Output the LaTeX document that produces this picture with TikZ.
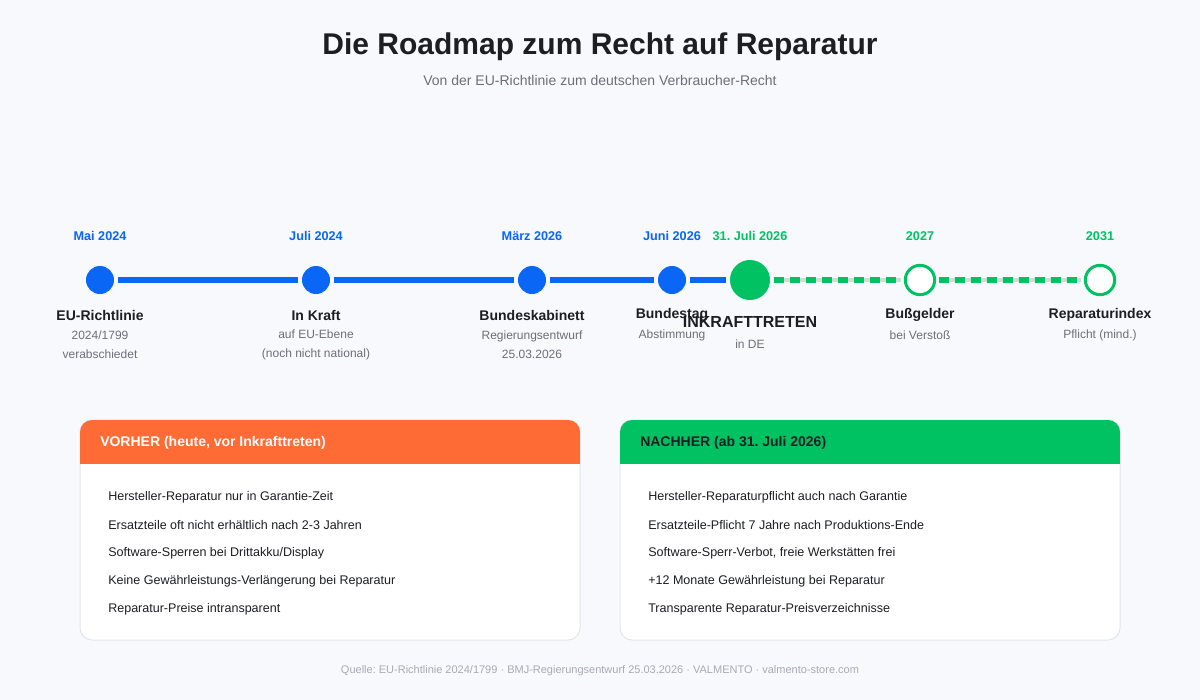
\documentclass[tikz,border=0pt]{standalone}
\usepackage{fontspec}
\setmainfont{Liberation Sans}
\usetikzlibrary{positioning}
\frenchspacing

\definecolor{pagebg}{HTML}{F7F9FC}
\definecolor{tlblue}{HTML}{0A66F5}
\definecolor{tlgreen}{HTML}{00C262}
\definecolor{tlorange}{HTML}{FF6B35}
\definecolor{tldark}{HTML}{1C1E22}
\definecolor{tlgray}{HTML}{6B7078}
\definecolor{tlfoot}{HTML}{A6ACB4}
\definecolor{tlrail}{HTML}{CFDCD2}
\definecolor{boxline}{HTML}{E2E6EB}

\tikzset{
  dot/.style={circle, fill=tlblue, minimum size=21pt, inner sep=0pt, outer sep=3pt},
  bigdot/.style={circle, fill=tlgreen, minimum size=30pt, inner sep=0pt, outer sep=3pt},
  ring/.style={circle, draw=tlgreen, line width=2.25pt, fill=white, minimum size=22pt, inner sep=0pt, outer sep=3pt},
  blueline/.style={tlblue, line width=4.5pt},
  railline/.style={tlrail, line width=3pt},
  greendash/.style={tlgreen, line width=4.5pt, dash pattern=on 7.5pt off 4.5pt},
  datelbl/.style={font=\bfseries\fontsize{9.5}{11}\selectfont},
  stagelbl/.style={text=tldark, font=\bfseries\fontsize{10.5}{12}\selectfont},
  sublbl/.style={text=tlgray, font=\fontsize{9}{14.25}\selectfont, align=center},
  headlbl/.style={anchor=west, inner sep=0pt, font=\bfseries\fontsize{10.5}{12}\selectfont},
  itemlbl/.style={anchor=west, inner sep=0pt, text=tldark, font=\fontsize{9.4}{12}\selectfont}
}

\begin{document}
\begin{tikzpicture}[x=0.75pt, y=-0.75pt]
  % page
  \fill[pagebg] (0,0) rectangle (1200,700);
  \useasboundingbox (0,0) rectangle (1200,700);

  % heading
  \node[text=tldark, font=\bfseries\fontsize{22.5}{26}\selectfont] (title) at (600,47) {Die Roadmap zum Recht auf Reparatur};
  \node[text=tlgray, font=\fontsize{10.5}{12}\selectfont] (subtitle) at (600,80) {Von der EU-Richtlinie zum deutschen Verbraucher-Recht};

  % timeline points
  \node[dot] (eu) at (100,280) {};
  \node[dot] (kraft) at (316,280) {};
  \node[dot] (kabinett) at (532,280) {};
  \node[dot] (bundestag) at (672,280) {};
  \node[bigdot] (de) at (750,280) {};
  \node[ring] (buss) at (920,280) {};
  \node[ring] (index) at (1100,280) {};

  % rails
  \draw[blueline] (eu) -- (kraft);
  \draw[blueline] (kraft) -- (kabinett);
  \draw[blueline] (kabinett) -- (bundestag);
  \draw[blueline] (bundestag) -- (de);
  \draw[railline] (de) -- (buss);
  \draw[greendash] (de) -- (buss);
  \draw[railline] (buss) -- (index);
  \draw[greendash] (buss) -- (index);

  % dates
  \node[datelbl, text=tlblue] (d1) at (100,236) {Mai 2024};
  \node[datelbl, text=tlblue] (d2) at (316,236) {Juli 2024};
  \node[datelbl, text=tlblue] (d3) at (532,236) {März 2026};
  \node[datelbl, text=tlblue] (d4) at (672,236) {Juni 2026};
  \node[datelbl, text=tlgreen] (d5) at (750,236) {31. Juli 2026};
  \node[datelbl, text=tlgreen] (d6) at (920,236) {2027};
  \node[datelbl, text=tlgreen] (d7) at (1100,236) {2031};

  % stage names
  \node[stagelbl] (s1) at (100,315) {EU-Richtlinie};
  \node[sublbl] (t1) at (100,345) {2024/1799\\verabschiedet};
  \node[stagelbl] (s2) at (316,315) {In Kraft};
  \node[sublbl] (t2) at (316,345) {auf EU-Ebene\\(noch nicht national)};
  \node[stagelbl] (s3) at (532,315) {Bundeskabinett};
  \node[sublbl] (t3) at (532,345) {Regierungsentwurf\\25.03.2026};
  \node[stagelbl] (s4) at (672,315) {Bundestag};
  \node[sublbl] (t4) at (672,335) {Abstimmung};
  \node[text=tldark, font=\bfseries\fontsize{12}{14}\selectfont] (s5) at (750,322) {INKRAFTTRETEN};
  \node[sublbl] (t5) at (750,344) {in DE};
  \node[stagelbl] (s6) at (920,315) {Bußgelder};
  \node[sublbl] (t6) at (920,335) {bei Verstoß};
  \node[stagelbl] (s7) at (1100,315) {Reparaturindex};
  \node[sublbl] (t7) at (1100,335) {Pflicht (mind.)};

  % before box
  \filldraw[fill=white, draw=boxline, line width=0.75pt, rounded corners=9pt] (80,420) rectangle (580,640);
  \begin{scope}
    \clip[rounded corners=9pt] (80,420) rectangle (580,640);
    \fill[tlorange] (80,420) rectangle (580,464);
  \end{scope}
  \node[headlbl, text=white] (vorher) at (100,443) {VORHER (heute, vor Inkrafttreten)};
  \node[itemlbl] (v1) at (108,497) {Hersteller-Reparatur nur in Garantie-Zeit};
  \node[itemlbl] (v2) at (108,525) {Ersatzteile oft nicht erhältlich nach 2-3 Jahren};
  \node[itemlbl] (v3) at (108,553) {Software-Sperren bei Drittakku/Display};
  \node[itemlbl] (v4) at (108,581) {Keine Gewährleistungs-Verlängerung bei Reparatur};
  \node[itemlbl] (v5) at (108,609) {Reparatur-Preise intransparent};

  % after box
  \filldraw[fill=white, draw=boxline, line width=0.75pt, rounded corners=9pt] (620,420) rectangle (1120,640);
  \begin{scope}
    \clip[rounded corners=9pt] (620,420) rectangle (1120,640);
    \fill[tlgreen] (620,420) rectangle (1120,464);
  \end{scope}
  \node[headlbl, text=tldark] (nachher) at (640,443) {NACHHER (ab 31. Juli 2026)};
  \node[itemlbl] (n1) at (648,497) {Hersteller-Reparaturpflicht auch nach Garantie};
  \node[itemlbl] (n2) at (648,525) {Ersatzteile-Pflicht 7 Jahre nach Produktions-Ende};
  \node[itemlbl] (n3) at (648,553) {Software-Sperr-Verbot, freie Werkstätten frei};
  \node[itemlbl] (n4) at (648,581) {+12 Monate Gewährleistung bei Reparatur};
  \node[itemlbl] (n5) at (648,609) {Transparente Reparatur-Preisverzeichnisse};

  % source
  \node[text=tlfoot, font=\fontsize{8.25}{10}\selectfont] (source) at (600,671) {Quelle: EU-Richtlinie 2024/1799 · BMJ-Regierungsentwurf 25.03.2026 · VALMENTO · valmento-store.com};
\end{tikzpicture}
\end{document}
